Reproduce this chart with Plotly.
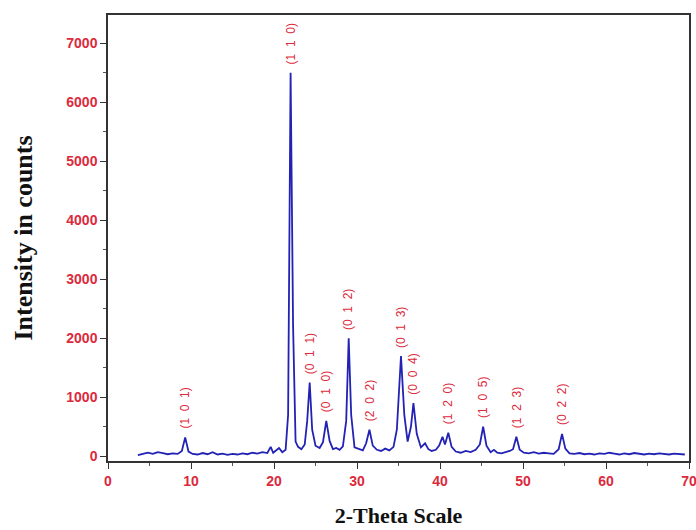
import plotly.graph_objects as go

# Diffraction pattern: 2-theta (degrees) and intensity (counts)
two_theta = [3.6, 4.2, 4.8, 5.4, 6.0, 6.6, 7.2, 7.8, 8.4, 8.9, 9.3, 9.7, 10.2, 10.8, 11.4, 12.0,
             12.6, 13.2, 13.8, 14.4, 15.0, 15.6, 16.2, 16.8, 17.4, 18.0, 18.6, 19.2, 19.6, 19.9,
             20.2, 20.6, 21.0, 21.4, 21.7, 22.0, 22.3, 22.6, 22.9, 23.3, 23.7, 24.0, 24.3, 24.6,
             25.0, 25.5, 25.9, 26.3, 26.7, 27.1, 27.5, 27.9, 28.3, 28.7, 29.0, 29.3, 29.7, 30.2,
             30.7, 31.1, 31.5, 31.9, 32.4, 32.9, 33.4, 33.9, 34.4, 34.8, 35.3, 35.7, 36.1, 36.5,
             36.8, 37.2, 37.7, 38.2, 38.6, 39.0, 39.5, 39.9, 40.3, 40.6, 41.0, 41.4, 41.9, 42.5,
             43.1, 43.7, 44.3, 44.8, 45.2, 45.6, 46.1, 46.5, 46.9, 47.4, 47.9, 48.4, 48.8, 49.2,
             49.6, 50.1, 50.7, 51.3, 51.9, 52.5, 53.1, 53.7, 54.3, 54.7, 55.1, 55.6, 56.2, 56.8,
             57.4, 58.0, 58.6, 59.2, 59.8, 60.4, 61.0, 61.6, 62.2, 62.8, 63.4, 64.0, 64.6, 65.2,
             65.8, 66.4, 67.0, 67.6, 68.2, 68.8, 69.5]
intensity = [20, 45, 60, 40, 70, 55, 35, 50, 40, 90, 320, 80, 40, 30, 55, 35,
             70, 30, 45, 25, 40, 30, 50, 35, 60, 45, 70, 55, 160, 60,
             90, 140, 70, 110, 700, 6500, 2200, 250, 160, 120, 200, 600, 1250, 450,
             180, 140, 240, 600, 260, 120, 140, 110, 170, 600, 2000, 700, 150, 120,
             100, 220, 450, 180, 110, 90, 130, 100, 160, 450, 1700, 700, 250, 500,
             900, 380, 150, 220, 120, 90, 110, 180, 330, 200, 400, 160, 80, 60,
             90, 70, 110, 200, 500, 180, 70, 110, 60, 50, 70, 90, 120, 330,
             110, 60, 50, 70, 45, 60, 50, 40, 120, 380, 130, 50, 40, 55,
             35, 45, 30, 50, 40, 60, 45, 30, 50, 35, 55, 40, 30, 45,
             35, 50, 40, 30, 45, 35, 30]

# Indexed reflections
peak_pos = [9.3, 22.0, 24.3, 26.3, 29.0, 31.5, 35.3, 36.8, 40.9, 45.2, 49.2, 54.7]
peak_height = [320, 6500, 1250, 600, 2000, 450, 1700, 900, 400, 500, 330, 380]
peak_hkl = ["(1 0 1)", "(1 1 0)", "(0 1 1)", "(0 1 0)", "(0 1 2)", "(2 0 2)",
            "(0 1 3)", "(0 0 4)", "(1 2 0)", "(1 0 5)", "(1 2 3)", "(0 2 2)"]

x_ticks = [0, 10, 20, 30, 40, 50, 60, 70]
y_ticks = [0, 1000, 2000, 3000, 4000, 5000, 6000, 7000]

label_red = "#dc2a3c"
line_blue = "#2222b4"

fig = go.Figure()
fig.add_trace(go.Scatter(x=two_theta, y=intensity, mode="lines",
                         line=dict(color=line_blue, width=1.8), showlegend=False,
                         hoverinfo="skip"))

for px, ph, lab in zip(peak_pos, peak_height, peak_hkl):
    fig.add_annotation(x=px, y=ph + 110, text=lab.replace(" ", "  "), showarrow=False,
                       textangle=-90, xanchor="center", yanchor="bottom",
                       font=dict(family="Liberation Sans", size=12, color=label_red))

fig.update_layout(
    width=696, height=530,
    margin=dict(l=108, r=7, t=15, b=69, autoexpand=False),
    paper_bgcolor="white", plot_bgcolor="white",
    xaxis=dict(range=[0, 70], tickvals=x_ticks, ticks="outside", ticklen=6, tickwidth=1.2,
               tickcolor="#333", showline=True, linecolor="#333", linewidth=1.5,
               mirror=True, showgrid=False, zeroline=False, ticklabeloverflow="allow",
               automargin=False,
               minor=dict(ticks="outside", ticklen=3, dtick=5, tickcolor="#555"),
               tickfont=dict(family="Liberation Sans", size=14, color=label_red,
                             weight="bold"),
               title=dict(text="<b>2-Theta Scale</b>", standoff=20,
                          font=dict(family="Liberation Serif", size=22, color="#111"))),
    yaxis=dict(range=[-80, 7480], tickvals=y_ticks, ticks="outside", ticklen=6, tickwidth=1.2,
               tickcolor="#333", showline=True, linecolor="#333", linewidth=1.5,
               mirror=True, showgrid=False, zeroline=False, automargin=False,
               minor=dict(ticks="outside", ticklen=3, dtick=500, tickcolor="#555"),
               tickfont=dict(family="Liberation Sans", size=14, color=label_red,
                             weight="bold"),
               title=dict(text="<b>Intensity in counts</b>", standoff=26,
                          font=dict(family="Liberation Serif", size=26, color="#111"))),
)

fig.write_html("out.html")
